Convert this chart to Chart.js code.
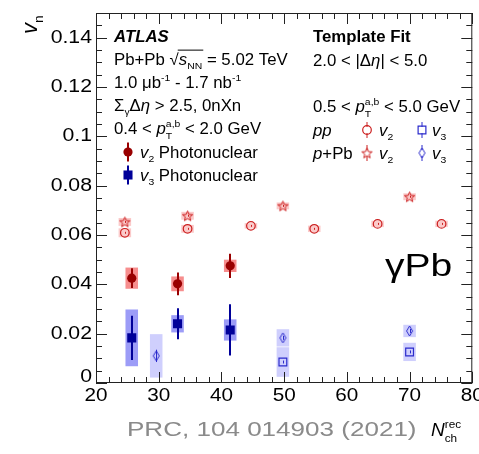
<!DOCTYPE html>
<html>
<head>
<meta charset="utf-8">
<script src="https://cdn.jsdelivr.net/npm/chart.js@4.4.1/dist/chart.umd.min.js"></script>
<style>
  html, body { margin: 0; padding: 0; background: #fff; }
  canvas { display: block; }
</style>
</head>
<body>
<canvas id="vnChart" width="479" height="454"></canvas>
<script>
// ---- data ----
const xTicks = [20, 30, 40, 50, 60, 70, 80];
const xTickLabels = ["20", "30", "40", "50", "60", "70", "80"];
const yTicks = [0, 0.02, 0.04, 0.06, 0.08, 0.1, 0.12, 0.14];
const yTickLabels = ["0", "0.02", "0.04", "0.06", "0.08", "0.1", "0.12", "0.14"];

// photonuclear (gamma+Pb)
const photoX = [25.7, 33.0, 41.4];
const photoV2 = [0.0425, 0.0402, 0.0475];
const photoV2Stat = [0.0040, 0.0046, 0.0049];
const photoV2Syst = [0.0043, 0.0030, 0.0025];
const photoV3 = [0.0183, 0.0240, 0.0215];
const photoV3Stat = [0.0090, 0.0063, 0.0104];
const photoV3Syst = [0.0115, 0.0035, 0.0043];

// pp, template fit
const ppV2X = [24.6, 34.6, 44.7, 54.8, 64.9, 75.1];
const ppV2 = [0.0609, 0.0625, 0.0637, 0.0625, 0.0645, 0.0645];
const ppV2Stat = [0.0004, 0.0004, 0.0004, 0.0004, 0.0004, 0.0004];
const ppV2Syst = [0.0018, 0.0016, 0.0011, 0.0013, 0.0013, 0.0013];
const ppV3X = [49.8, 70.0];
const ppV3 = [0.0085, 0.0126];
const ppV3Stat = [0.0006, 0.0006];
const ppV3Syst = [0.0060, 0.0037];

// p+Pb, template fit
const pPbV2X = [24.6, 34.6, 49.8, 70.0];
const pPbV2 = [0.0653, 0.0678, 0.0718, 0.0755];
const pPbV2Stat = [0.0004, 0.0004, 0.0004, 0.0004];
const pPbV2Syst = [0.0016, 0.0016, 0.0014, 0.0014];
const pPbV3X = [29.6, 49.8, 70.0];
const pPbV3 = [0.0110, 0.0183, 0.0211];
const pPbV3Stat = [0.0025, 0.0008, 0.0008];
const pPbV3Syst = [0.0088, 0.0035, 0.0025];

const boxHalfWidth = 1.0;

// ---- colours ----
const darkRed = "#990000";
const darkBlue = "#000099";
const openRed = "#cc2020";
const openBlue = "#2b2bcc";
const v2PhotoBox = "#f78e8e";
const v3PhotoBox = "#9c9cf7";
const v2TmplBox = "#fbcaca";
const v3TmplBox = "#cfcffd";

const FAM = '"Liberation Sans", Arial, Helvetica, sans-serif';

function starImg(color) {
  const c = document.createElement("canvas");
  c.width = 13; c.height = 13;
  const g = c.getContext("2d");
  g.strokeStyle = color;
  g.lineWidth = 1;
  g.beginPath();
  for (let i = 0; i < 10; i++) {
    const r = i % 2 ? 2.3 : 5.4;
    const a = -Math.PI / 2 + i * Math.PI / 5;
    const px = 6.5 + r * Math.cos(a), py = 7 + r * Math.sin(a);
    i ? g.lineTo(px, py) : g.moveTo(px, py);
  }
  g.closePath();
  g.stroke();
  return c;
}

function diamondImg(color) {
  const c = document.createElement("canvas");
  c.width = 9; c.height = 12;
  const g = c.getContext("2d");
  g.strokeStyle = color;
  g.lineWidth = 1;
  g.beginPath();
  g.moveTo(4.5, 1); g.lineTo(7.5, 6); g.lineTo(4.5, 11); g.lineTo(1.5, 6);
  g.closePath();
  g.stroke();
  return c;
}

const pts = (xs, ys, stat, syst) =>
  xs.map((x, i) => ({ x: x, y: ys[i], stat: stat[i], syst: syst[i] }));

const datasets = [
  {
    label: "pp v2", data: pts(ppV2X, ppV2, ppV2Stat, ppV2Syst),
    pointStyle: "circle", pointRadius: 4.3, pointBorderWidth: 1.2,
    pointBorderColor: openRed, pointBackgroundColor: "rgba(0,0,0,0)",
    boxColor: v2TmplBox, barColor: openRed, barWidth: 1,
  },
  {
    label: "p+Pb v2", data: pts(pPbV2X, pPbV2, pPbV2Stat, pPbV2Syst),
    pointStyle: starImg(openRed), pointRadius: 5,
    boxColor: v2TmplBox, barColor: openRed, barWidth: 1,
  },
  {
    label: "pp v3", data: pts(ppV3X, ppV3, ppV3Stat, ppV3Syst),
    pointStyle: "rect", pointRadius: 5.5, pointBorderWidth: 1.2,
    pointBorderColor: openBlue, pointBackgroundColor: "rgba(0,0,0,0)",
    boxColor: v3TmplBox, barColor: openBlue, barWidth: 1,
  },
  {
    label: "p+Pb v3", data: pts(pPbV3X, pPbV3, pPbV3Stat, pPbV3Syst),
    pointStyle: diamondImg(openBlue), pointRadius: 5,
    boxColor: v3TmplBox, barColor: openBlue, barWidth: 1,
  },
  {
    label: "v2 Photonuclear", data: pts(photoX, photoV2, photoV2Stat, photoV2Syst),
    pointStyle: "circle", pointRadius: 4.6, pointBorderWidth: 0,
    pointBorderColor: darkRed, pointBackgroundColor: darkRed,
    boxColor: v2PhotoBox, barColor: darkRed, barWidth: 2,
  },
  {
    label: "v3 Photonuclear", data: pts(photoX, photoV3, photoV3Stat, photoV3Syst),
    pointStyle: "rect", pointRadius: 6.4, pointBorderWidth: 0,
    pointBorderColor: darkBlue, pointBackgroundColor: darkBlue,
    boxColor: v3PhotoBox, barColor: darkBlue, barWidth: 2,
  },
];

// rich text: segments drawn one after another, with sub/superscripts
function rich(ctx, x, y, segs, size, sx, color) {
  ctx.save();
  ctx.translate(x, y);
  ctx.scale(sx || 1, 1);
  ctx.fillStyle = color || "#000";
  ctx.strokeStyle = color || "#000";
  ctx.textAlign = "left";
  ctx.textBaseline = "alphabetic";
  let cx = 0, olx = 0;
  for (const s of segs) {
    if (typeof s === "string") {
      ctx.font = size + "px " + FAM;
      ctx.fillText(s, cx, 0);
      cx += ctx.measureText(s).width;
      continue;
    }
    if (s.ol === "start") { olx = cx; continue; }
    if (s.ol === "end") {
      ctx.lineWidth = 1;
      ctx.beginPath();
      ctx.moveTo(olx - 1, -size * 0.93);
      ctx.lineTo(cx + 1, -size * 0.93);
      ctx.stroke();
      continue;
    }
    if (s.sup !== undefined) {
      ctx.font = size * 0.62 + "px " + FAM;
      ctx.fillText(s.sup, cx, -size * 0.42);
      ctx.fillText(s.sub, cx, size * 0.3);
      cx += Math.max(ctx.measureText(s.sup).width, ctx.measureText(s.sub).width);
      continue;
    }
    const fs = size * (s.s || 1);
    ctx.font = (s.i ? "italic " : "") + (s.b ? "bold " : "") + fs + "px " + FAM;
    ctx.fillText(s.t, cx, (s.dy || 0) * size);
    cx += ctx.measureText(s.t).width + (s.k || 0);
  }
  ctx.restore();
}
const sub = (t) => ({ t: t, s: 0.62, dy: 0.28 });
const sup = (t) => ({ t: t, s: 0.62, dy: -0.42 });
const it = (t) => ({ t: t, i: true });

function marker(ctx, ds, px, py) {
  const st = ds.pointStyle;
  if (typeof st !== "string") {
    ctx.drawImage(st, px - st.width / 2, py - st.height / 2);
    return;
  }
  ctx.beginPath();
  if (st === "circle") {
    ctx.arc(px, py, ds.pointRadius, 0, Math.PI * 2);
  } else {
    const h = ds.pointRadius * Math.SQRT1_2;
    ctx.rect(px - h, py - h, 2 * h, 2 * h);
  }
  if (ds.pointBorderWidth) {
    ctx.lineWidth = ds.pointBorderWidth;
    ctx.strokeStyle = ds.pointBorderColor;
    ctx.stroke();
  } else {
    ctx.fillStyle = ds.pointBackgroundColor;
    ctx.fill();
  }
}

function legendEntry(ctx, ds, px, py, half) {
  ctx.strokeStyle = ds.barColor;
  ctx.lineWidth = ds.barWidth;
  ctx.beginPath();
  ctx.moveTo(px, py - half);
  ctx.lineTo(px, py + half);
  ctx.stroke();
  if (ds.pointBorderWidth || typeof ds.pointStyle !== "string") {
    // hollow marker: clear the bar inside
    ctx.fillStyle = "#fff";
    ctx.fillRect(px - 2, py - 3, 4, 6);
  }
  marker(ctx, ds, px, py);
}

const errorPlugin = {
  id: "errorBoxes",
  beforeDatasetsDraw(chart) {
    const { ctx, scales: { x, y } } = chart;
    ctx.save();
    chart.data.datasets.forEach((ds) => {
      ctx.fillStyle = ds.boxColor;
      ds.data.forEach((p) => {
        const x0 = x.getPixelForValue(p.x - boxHalfWidth);
        const x1 = x.getPixelForValue(p.x + boxHalfWidth);
        const y0 = y.getPixelForValue(p.y + p.syst);
        const y1 = y.getPixelForValue(p.y - p.syst);
        ctx.fillRect(x0, y0, x1 - x0, y1 - y0);
      });
    });
    chart.data.datasets.forEach((ds) => {
      ctx.strokeStyle = ds.barColor;
      ctx.lineWidth = ds.barWidth;
      ds.data.forEach((p) => {
        const px = Math.round(x.getPixelForValue(p.x)) + (ds.barWidth === 1 ? 0.5 : 0);
        ctx.beginPath();
        ctx.moveTo(px, y.getPixelForValue(p.y + p.stat));
        ctx.lineTo(px, y.getPixelForValue(p.y - p.stat));
        ctx.stroke();
      });
    });
    ctx.restore();
  },
};

const framePlugin = {
  id: "frame",
  afterDraw(chart) {
    const { ctx, chartArea: a, scales: { x, y } } = chart;
    const ds = chart.data.datasets;
    ctx.save();

    // frame with inward ticks on all four sides
    ctx.strokeStyle = "#222";
    ctx.lineWidth = 1;
    ctx.strokeRect(a.left + 0.5, a.top + 0.5, a.right - a.left - 1, a.bottom - a.top - 1);
    ctx.beginPath();
    for (let v = 20; v <= 80; v += 2) {
      const px = Math.round(x.getPixelForValue(v)) + 0.5;
      const len = v % 10 === 0 ? 11 : 6;
      ctx.moveTo(px, a.bottom); ctx.lineTo(px, a.bottom - len);
      ctx.moveTo(px, a.top); ctx.lineTo(px, a.top + len);
    }
    for (let i = 0; i <= 30; i++) {
      const py = Math.round(y.getPixelForValue(i * 0.005)) + 0.5;
      const len = i % 4 === 0 ? 11 : 6;
      ctx.moveTo(a.left, py); ctx.lineTo(a.left + len, py);
      ctx.moveTo(a.right, py); ctx.lineTo(a.right - len, py);
    }
    ctx.stroke();

    // tick labels
    ctx.fillStyle = "#000";
    ctx.textBaseline = "middle";
    yTicks.forEach((v, i) => {
      const py = Math.min(y.getPixelForValue(v), a.bottom - 6);
      ctx.save();
      ctx.translate(a.left - 4, py);
      ctx.scale(1.18, 1);
      ctx.font = "18px " + FAM;
      ctx.textAlign = "right";
      ctx.fillText(yTickLabels[i], 0, 0);
      ctx.restore();
    });
    xTicks.forEach((v, i) => {
      const px = x.getPixelForValue(v);
      ctx.save();
      ctx.translate(px, a.bottom + 13);
      ctx.scale(1.15, 1);
      ctx.font = "18px " + FAM;
      ctx.textAlign = "center";
      ctx.fillText(xTickLabels[i], 0, 0);
      ctx.restore();
    });

    // axis titles
    ctx.save();
    ctx.translate(37, 34);
    ctx.rotate(-Math.PI / 2);
    rich(ctx, 0, 0, [{ t: "v", i: true }, sub("n")], 22);
    ctx.restore();
    rich(ctx, 431, 436, [{ t: "N", i: true }, { sup: "rec", sub: "ch" }], 19);

    // reference and label
    rich(ctx, 127, 436, ["PRC, 104 014903 (2021)"], 21, 1.24, "#8a8a8a");
    rich(ctx, 385, 276, ["γPb"], 32, 1.22);

    // left legend block
    const L = 114, S = 16, SX = 1.05;
    rich(ctx, L, 42, [{ t: "ATLAS", i: true, b: true }], S, SX);
    rich(ctx, L, 65, ["Pb+Pb ", "√", { ol: "start" }, it("s"), sub("NN"), { ol: "end" }, " = 5.02 TeV"], S, SX);
    rich(ctx, L, 88, ["1.0 μb", sup("-1"), " - 1.7 nb", sup("-1")], S, SX);
    rich(ctx, L, 111, ["Σ", sub("γ"), "Δ", it("η"), " > 2.5, 0nXn"], S, SX);
    rich(ctx, L, 134, ["0.4 < ", it("p"), { sup: "a,b", sub: "T" }, " < 2.0 GeV"], S, SX);
    legendEntry(ctx, ds[4], 128, 152, 9.5);
    rich(ctx, 140, 158, [it("v"), sub("2"), " Photonuclear"], S, SX);
    legendEntry(ctx, ds[5], 128, 175, 9.5);
    rich(ctx, 140, 181, [it("v"), sub("3"), " Photonuclear"], S, SX);

    // right legend block
    const R = 313;
    rich(ctx, R, 42, [{ t: "Template Fit", b: true }], S, SX);
    rich(ctx, R, 66, ["2.0 < |Δ", it("η"), "| < 5.0"], S, SX);
    rich(ctx, R, 112, ["0.5 < ", it("p"), { sup: "a,b", sub: "T" }, " < 5.0 GeV"], S, SX);
    rich(ctx, R, 136, [it("pp")], S, SX);
    legendEntry(ctx, ds[0], 367, 130, 8);
    rich(ctx, 379, 136, [it("v"), sub("2")], S, SX);
    legendEntry(ctx, ds[2], 422, 130, 8);
    rich(ctx, 432, 136, [it("v"), sub("3")], S, SX);
    rich(ctx, R, 159, [it("p"), "+Pb"], S, SX);
    legendEntry(ctx, ds[1], 367, 153, 8);
    rich(ctx, 379, 159, [it("v"), sub("2")], S, SX);
    legendEntry(ctx, ds[3], 422, 153, 8);
    rich(ctx, 432, 159, [it("v"), sub("3")], S, SX);

    ctx.restore();
  },
};

document.addEventListener("DOMContentLoaded", () => {
  const ctx = document.getElementById("vnChart").getContext("2d");

  new Chart(ctx, {
    type: "scatter",
    data: { datasets: datasets },
    plugins: [errorPlugin, framePlugin],
    options: {
      responsive: false,
      devicePixelRatio: 1,
      animation: false,
      layout: { padding: { top: 13, right: 1, left: 0, bottom: 0 } },
      plugins: {
        legend: { display: false },
        tooltip: { enabled: false },
      },
      scales: {
        x: {
          type: "linear",
          min: 20,
          max: 80,
          grid: { display: false },
          border: { display: false },
          ticks: { display: false },
          afterFit: (s) => { s.height = 71; },
        },
        y: {
          type: "linear",
          min: 0,
          max: 0.15,
          grid: { display: false },
          border: { display: false },
          ticks: { display: false },
          afterFit: (s) => { s.width = 96; },
        },
      },
    },
  });
});
</script>
</body>
</html>
